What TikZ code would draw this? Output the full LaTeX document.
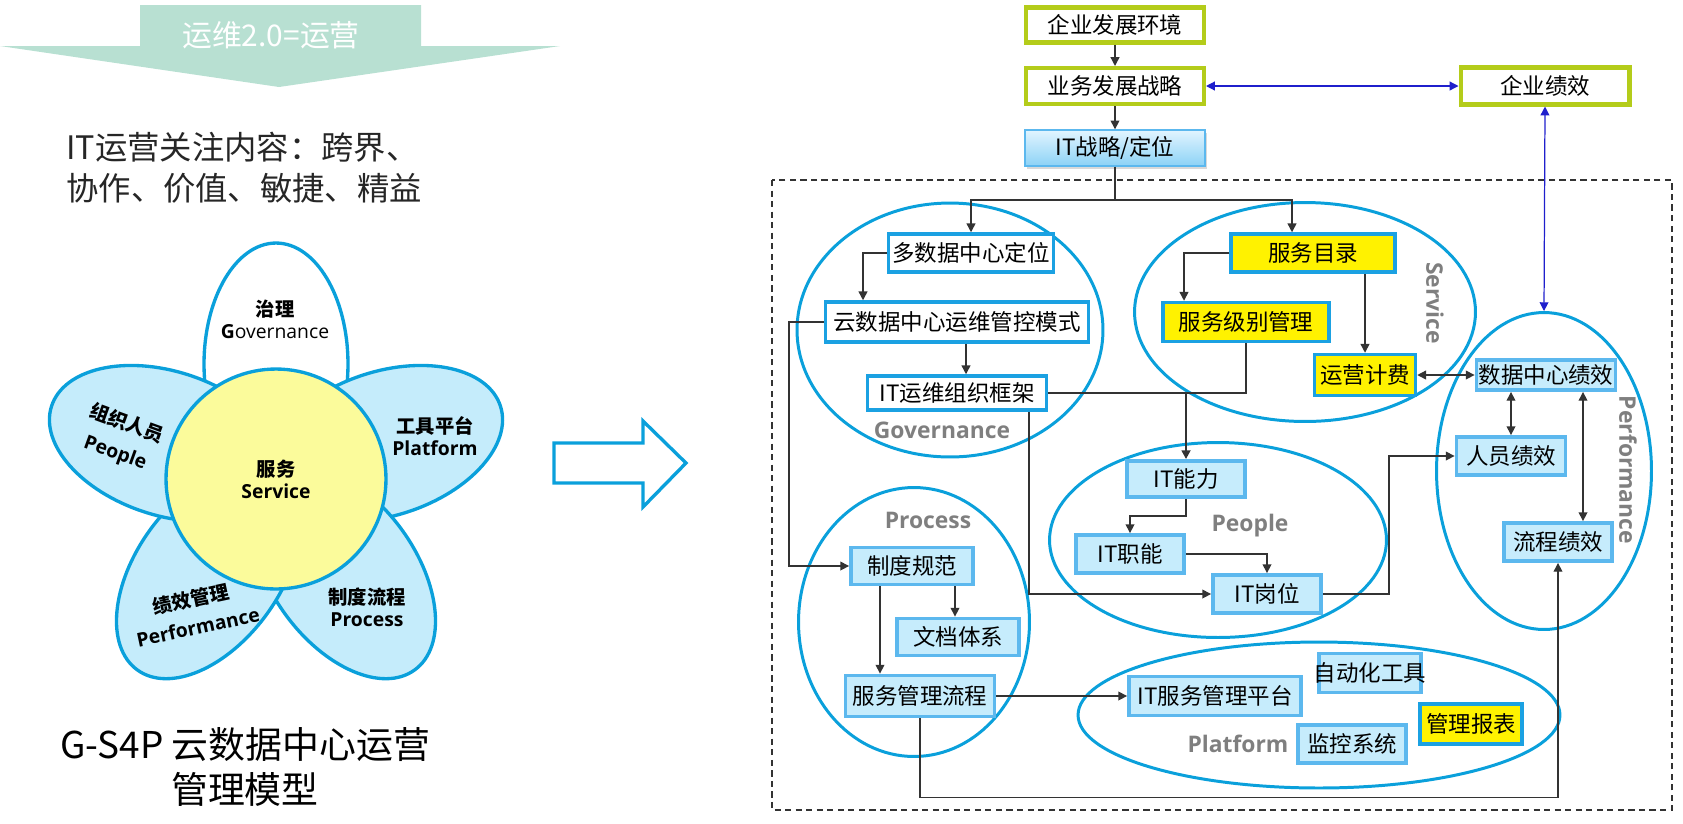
\documentclass[tikz,border=0pt]{standalone}
\usepackage{fontspec}
\setmainfont{Noto Sans CJK SC}
\newfontfamily\latinfont{Open Sans}
\usepackage{tikz}
\usetikzlibrary{shapes.geometric, arrows.meta, positioning, calc, shadows}
\usepackage{xcolor}

\definecolor{mint}{HTML}{B8E0D2}
\definecolor{ringblue}{HTML}{0AA0DB}
\definecolor{boxblue}{HTML}{1BA1E2}
\definecolor{paleblue}{HTML}{C6ECFC}
\definecolor{paleedge}{HTML}{5CB8EE}
\definecolor{petalblue}{HTML}{C5ECFB}
\definecolor{flowery}{HTML}{FBFB9B}
\definecolor{leafgreen}{HTML}{B4CC1A}
\definecolor{labelgray}{HTML}{7F7F7F}
\definecolor{linegray}{HTML}{333333}
\definecolor{linkblue}{HTML}{1F1FCC}
\definecolor{darktext}{HTML}{262626}
\definecolor{itfilltop}{HTML}{E2F5FF}
\definecolor{itfillbot}{HTML}{8CD2F6}

\newcommand{\bxfont}{\fontsize{12.8}{15}\selectfont}

\tikzset{
  whitebox/.style={draw=boxblue, line width=2pt, fill=white, inner sep=0pt, font=\bxfont},
  yellowbox/.style={whitebox, fill=yellow},
  palebox/.style={draw=paleedge, line width=2.2pt, fill=paleblue, inner sep=0pt, font=\bxfont},
  greenbox/.style={draw=leafgreen, line width=2.3pt, fill=white, inner sep=0pt, font=\bxfont},
  itbox/.style={draw=paleedge, line width=0.8pt, top color=itfilltop, bottom color=itfillbot,
    drop shadow={opacity=0.3, shadow xshift=1pt, shadow yshift=-1.5pt}, inner sep=0pt, font=\bxfont},
  ring/.style={ellipse, draw=ringblue, line width=1.7pt, inner sep=0pt},
  ringlabel/.style={text=labelgray, font=\latinfont\fontsize{13}{15}\selectfont\bfseries, inner sep=0pt},
  petal/.style={draw=ringblue, line width=1.9pt, fill=petalblue},
  flowerlabel/.style={align=center, inner sep=0pt, font=\fontsize{11}{12.5}\selectfont\bfseries},
  conn/.style={draw=linegray, line width=0.8pt},
  arr/.style={conn, -{Triangle[length=5pt,width=5pt]}},
  dbl/.style={conn, {Triangle[length=5pt,width=5pt]}-{Triangle[length=5pt,width=5pt]}},
  bluedbl/.style={draw=linkblue, line width=0.7pt, {Triangle[length=5pt,width=5pt]}-{Triangle[length=5pt,width=5pt]}},
}

\begin{document}
\begin{tikzpicture}[x=0.02cm, y=-0.02cm]
        \useasboundingbox (0,0) rectangle (1683,823);

        % banner arrow
        \fill[mint] (0,46) -- (140,46) -- (140,5) -- (421,5) -- (421,46) -- (560,46) -- (279,87) -- cycle;
        \node[text=white, font=\fontsize{17}{19}\selectfont] (banner) at (271,35) {运维2.0=运营};

        % focus text
        \node[anchor=west, align=left, inner sep=0pt, text=darktext, font=\fontsize{18.4}{23.2}\selectfont] (focus) at (66,168) {IT运营关注内容：跨界、\\协作、价值、敏捷、精益};

        % flower petals
        \draw[petal, fill=white, rotate around={90:(276,479)}] (391,479) ellipse [x radius=2.42cm, y radius=1.44cm];
        \draw[petal, rotate around={18:(276,479)}] (391,479) ellipse [x radius=2.42cm, y radius=1.44cm];
        \draw[petal, rotate around={-54:(276,479)}] (391,479) ellipse [x radius=2.42cm, y radius=1.44cm];
        \draw[petal, rotate around={-126:(276,479)}] (391,479) ellipse [x radius=2.42cm, y radius=1.44cm];
        \draw[petal, rotate around={162:(276,479)}] (391,479) ellipse [x radius=2.42cm, y radius=1.44cm];

        % flower centre
        \node[circle, draw=ringblue, line width=1.9pt, fill=flowery, minimum size=4.4cm, inner sep=0pt, align=center, font=\fontsize{11}{12.5}\selectfont\bfseries] (svc) at (276,479) {服务\\{\latinfont Service}};

        % petal labels
        \node[flowerlabel] (gov) at (275,319) {治理\\{\latinfont\mdseries\textbf{G}overnance}};
        \node[flowerlabel] (plat) at (435,436) {工具平台\\{\latinfont Platform}};
        \node[flowerlabel, rotate=-20] (peopcn) at (127,423) {组织人员};
        \node[flowerlabel, rotate=-20] (peopen) at (115,454) {\latinfont People};
        \node[flowerlabel, rotate=12] (perfcn) at (191,599) {绩效管理};
        \node[flowerlabel, rotate=12] (perfen) at (198,627) {\latinfont Performance};
        \node[flowerlabel] (proc) at (367,607) {制度流程\\{\latinfont Process}};

        % title
        \node[align=center, inner sep=0pt, font=\fontsize{21}{25.5}\selectfont] (title) at (245,767) {G-S4P 云数据中心运营\\管理模型};

        % big arrow
        \draw[ringblue, line width=1.9pt, fill=white] (554,443) -- (643,443) -- (643,421) -- (686,463) -- (643,507) -- (643,483) -- (554,483) -- cycle;

        % dashed frame
        \draw[linegray, line width=0.8pt, dash pattern=on 3.5pt off 2.5pt] (772,180) rectangle (1672,810);

        % rings
        \node[ring, minimum width=6.12cm, minimum height=5.08cm] (govring) at (950,330) {};
        \node[ring, minimum width=6.82cm, minimum height=4.38cm] (svcring) at (1305,312) {};
        \node[ring, minimum width=4.30cm, minimum height=6.34cm] (perfring) at (1544,471) {};
        \node[ring, minimum width=6.74cm, minimum height=3.90cm] (peopring) at (1218,540) {};
        \node[ring, minimum width=4.62cm, minimum height=5.38cm] (procring) at (914,622) {};
        \node[ring, minimum width=9.64cm, minimum height=2.92cm] (platring) at (1319,715) {};

        % ring labels
        \node[ringlabel] (govlab) at (942,430) {Governance};
        \node[ringlabel, rotate=-90] (svclab) at (1435,303) {Service};
        \node[ringlabel, rotate=-90] (perflab) at (1628,470) {Performance};
        \node[ringlabel] (peoplab) at (1250,526) {People};
        \node[ringlabel] (proclab) at (928,520) {Process};
        \node[ringlabel] (platlab) at (1238,744) {Platform};

        % top chain
        \node[greenbox, minimum width=3.56cm, minimum height=0.70cm] (env) at (1115,25) {企业发展环境};
        \node[greenbox, minimum width=3.56cm, minimum height=0.72cm] (biz) at (1115,86) {业务发展战略};
        \node[itbox, minimum width=3.60cm, minimum height=0.72cm] (itstr) at (1115,148) {IT战略/定位};
        \node[greenbox, minimum width=3.38cm, minimum height=0.74cm] (perf) at (1545,86) {企业绩效};

        % governance
        \node[whitebox, minimum width=3.30cm, minimum height=0.76cm] (g1) at (971,253) {多数据中心定位};
        \node[whitebox, minimum width=5.26cm, minimum height=0.80cm] (g2) at (957,322) {云数据中心运维管控模式};
        \node[whitebox, minimum width=3.58cm, minimum height=0.68cm] (g3) at (957,393) {IT运维组织框架};

        % service
        \node[yellowbox, minimum width=3.28cm, minimum height=0.76cm] (s1) at (1313,253) {服务目录};
        \node[yellowbox, minimum width=3.32cm, minimum height=0.78cm] (s2) at (1246,322) {服务级别管理};
        \node[yellowbox, minimum width=2.02cm, minimum height=0.82cm] (s3) at (1365,375) {运营计费};

        % performance
        \node[palebox, minimum width=2.78cm, minimum height=0.60cm] (p1) at (1546,375) {数据中心绩效};
        \node[palebox, minimum width=2.18cm, minimum height=0.76cm] (p2) at (1511,456) {人员绩效};
        \node[palebox, minimum width=2.16cm, minimum height=0.76cm] (p3) at (1558,542) {流程绩效};

        % people
        \node[palebox, minimum width=2.36cm, minimum height=0.72cm] (q1) at (1186,479) {IT能力};
        \node[palebox, minimum width=2.16cm, minimum height=0.76cm] (q2) at (1130,554) {IT职能};
        \node[palebox, minimum width=2.16cm, minimum height=0.76cm] (q3) at (1267,594) {IT岗位};

        % process
        \node[palebox, minimum width=2.44cm, minimum height=0.74cm] (r1) at (912,566) {制度规范};
        \node[palebox, minimum width=2.44cm, minimum height=0.74cm] (r2) at (958,637) {文档体系};
        \node[palebox, minimum width=2.98cm, minimum height=0.82cm] (r3) at (920,696) {服务管理流程};

        % platform
        \node[palebox, minimum width=3.44cm, minimum height=0.78cm] (t1) at (1215,696) {IT服务管理平台};
        \node[palebox, minimum width=2.04cm, minimum height=0.78cm] (t2) at (1370,673) {\makebox[2cm]{自动化工具}};
        \node[yellowbox, minimum width=2.04cm, minimum height=0.80cm] (t3) at (1471,724) {管理报表};
        \node[palebox, minimum width=2.16cm, minimum height=0.76cm] (t4) at (1352,744) {监控系统};

        % links from strategy
        \draw[arr] (env) -- (biz);
        \draw[arr] (biz) -- (itstr);
        \draw[bluedbl] (biz.east) -- (perf.west);
        \draw[bluedbl] (perf.south) -- (perfring.north);
        \coordinate (split) at (1115,200);
        \draw[conn] (itstr.south) -- (split);
        \draw[arr] (split) -| (g1.north);
        \draw[arr] (split) -| ($(s1.north)+(-21,0)$);

        % governance links
        \draw[arr] (g1.west) -| ($(g2.north)+(-94,0)$);
        \draw[arr] ($(g2.south)+(9,0)$) -- ($(g3.north)+(9,0)$);
        \draw[arr] (g2.west) -| ($(r1.west)+(-60,0)$) -- (r1.west);
        \draw[arr] ($(g3.south)+(72,0)$) |- (q3.west);
        \coordinate (merge) at (q1.north |- g3.east);
        \draw[conn] (g3.east) -- (merge);
        \draw[conn] (s2.south) |- (merge);
        \draw[arr, line width=1.3pt] (merge) -- (q1.north);

        % service links
        \draw[arr] (s1.west) -| ($(s2.north)+(-62,0)$);
        \draw[arr] (s3.north |- s1.south) -- (s3.north);
        \draw[dbl] (s3.east) -- (p1.west);

        % performance links
        \coordinate (pcol) at ($(p3.north)+(25,0)$);
        \draw[dbl] (p2.north |- p1.south) -- (p2.north);
        \draw[dbl] (pcol |- p1.south) -- (pcol);

        % people links
        \draw[arr] (q1.south) -- ++(0,17) -| (q2.north);
        \draw[arr] (q2.east) -| (q3.north);
        \draw[arr] (q3.east) -- ++(66,0) |- (p2.west);

        % process links
        \draw[arr] ($(r1.south)+(43,0)$) -- ($(r2.north)+(-3,0)$);
        \draw[arr] ($(r1.south)+(-32,0)$) -- ($(r3.north)+(-40,0)$);
        \draw[arr] (r3.east) -- (t1.west);
        \draw[arr] (r3.south) -- ++(0,79) -| (p3.south);
\end{tikzpicture}
\end{document}
